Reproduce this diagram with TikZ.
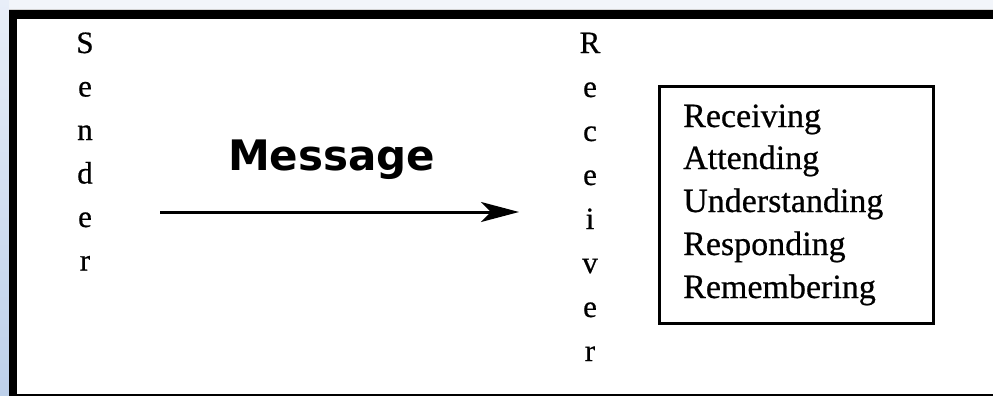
\documentclass[tikz,border=0pt]{standalone}
\usepackage{fontspec}
\setmainfont{Liberation Serif}[FakeBold=0.6]
\newfontfamily\msgfont{DejaVu Sans}
\usetikzlibrary{arrows.meta}
\definecolor{topstrip}{HTML}{F2F5FA}
\definecolor{stripA}{HTML}{E8EEF8}
\definecolor{stripB}{HTML}{BDD0EA}
\definecolor{baseline}{HTML}{B4B4B4}
\tikzset{
  letter/.style={anchor=base, inner sep=0pt, font=\fontsize{31}{36}\selectfont\addfontfeature{FakeBold=0.6}},
  stageitem/.style={anchor=base west, inner sep=0pt, font=\fontsize{34}{40}\selectfont\addfontfeature{FakeBold=0.6}},
  stagebox/.style={draw, line width=3pt, anchor=north west, inner sep=0pt},
  msgarrow/.style={line width=3pt, -{Stealth[length=38pt,width=20pt,inset=10pt]}},
}
\begin{document}
\begin{tikzpicture}[x=1pt,y=-1pt]
\useasboundingbox (0,0) rectangle (993,396);
% background
\fill[white] (0,0) rectangle (993,396);
\fill[topstrip] (0,0) rectangle (993,10);
\shade[top color=stripA, bottom color=stripB] (0,0) rectangle (9,396);
\draw[baseline, line width=1.5pt] (17,395) -- (993,395);
\draw[baseline!60, line width=1pt] (9,9.5) -- (993,9.5);
% frame bars
\fill[black] (9,10) rectangle (993,19);
\fill[black] (9,10) rectangle (17,396);
% sender letters
\foreach \ch/\k in {S/0,e/1,n/2,d/3,e/4,r/5}{
  \node[letter] (s\k) at (85,{53+43.5*\k}) {\ch};
}
% receiver letters
\foreach \ch/\k in {R/0,e/1,c/2,e/3,i/4,v/5,e/6,r/7}{
  \node[letter] (r\k) at (590,{53+44*\k}) {\ch};
}
% message
\node[anchor=base west, inner sep=0pt, font=\msgfont\bfseries\fontsize{42}{48}\selectfont] (msg) at (228,170) {Message};
\coordinate (msgstart) at (160,212);
\coordinate (msgend) at (519,212);
\draw[msgarrow] (msgstart) -- (msgend);
% stages box
\node[stagebox, minimum width=274pt, minimum height=237pt] (box) at (658,85) {};
\node[stageitem] (l1) at (683,127) {Receiving};
\node[stageitem] (l2) at (683,169) {Attending};
\node[stageitem] (l3) at (683,212) {Understanding};
\node[stageitem] (l4) at (683,255) {Responding};
\node[stageitem] (l5) at (683,298) {Remembering};
\end{tikzpicture}
\end{document}
